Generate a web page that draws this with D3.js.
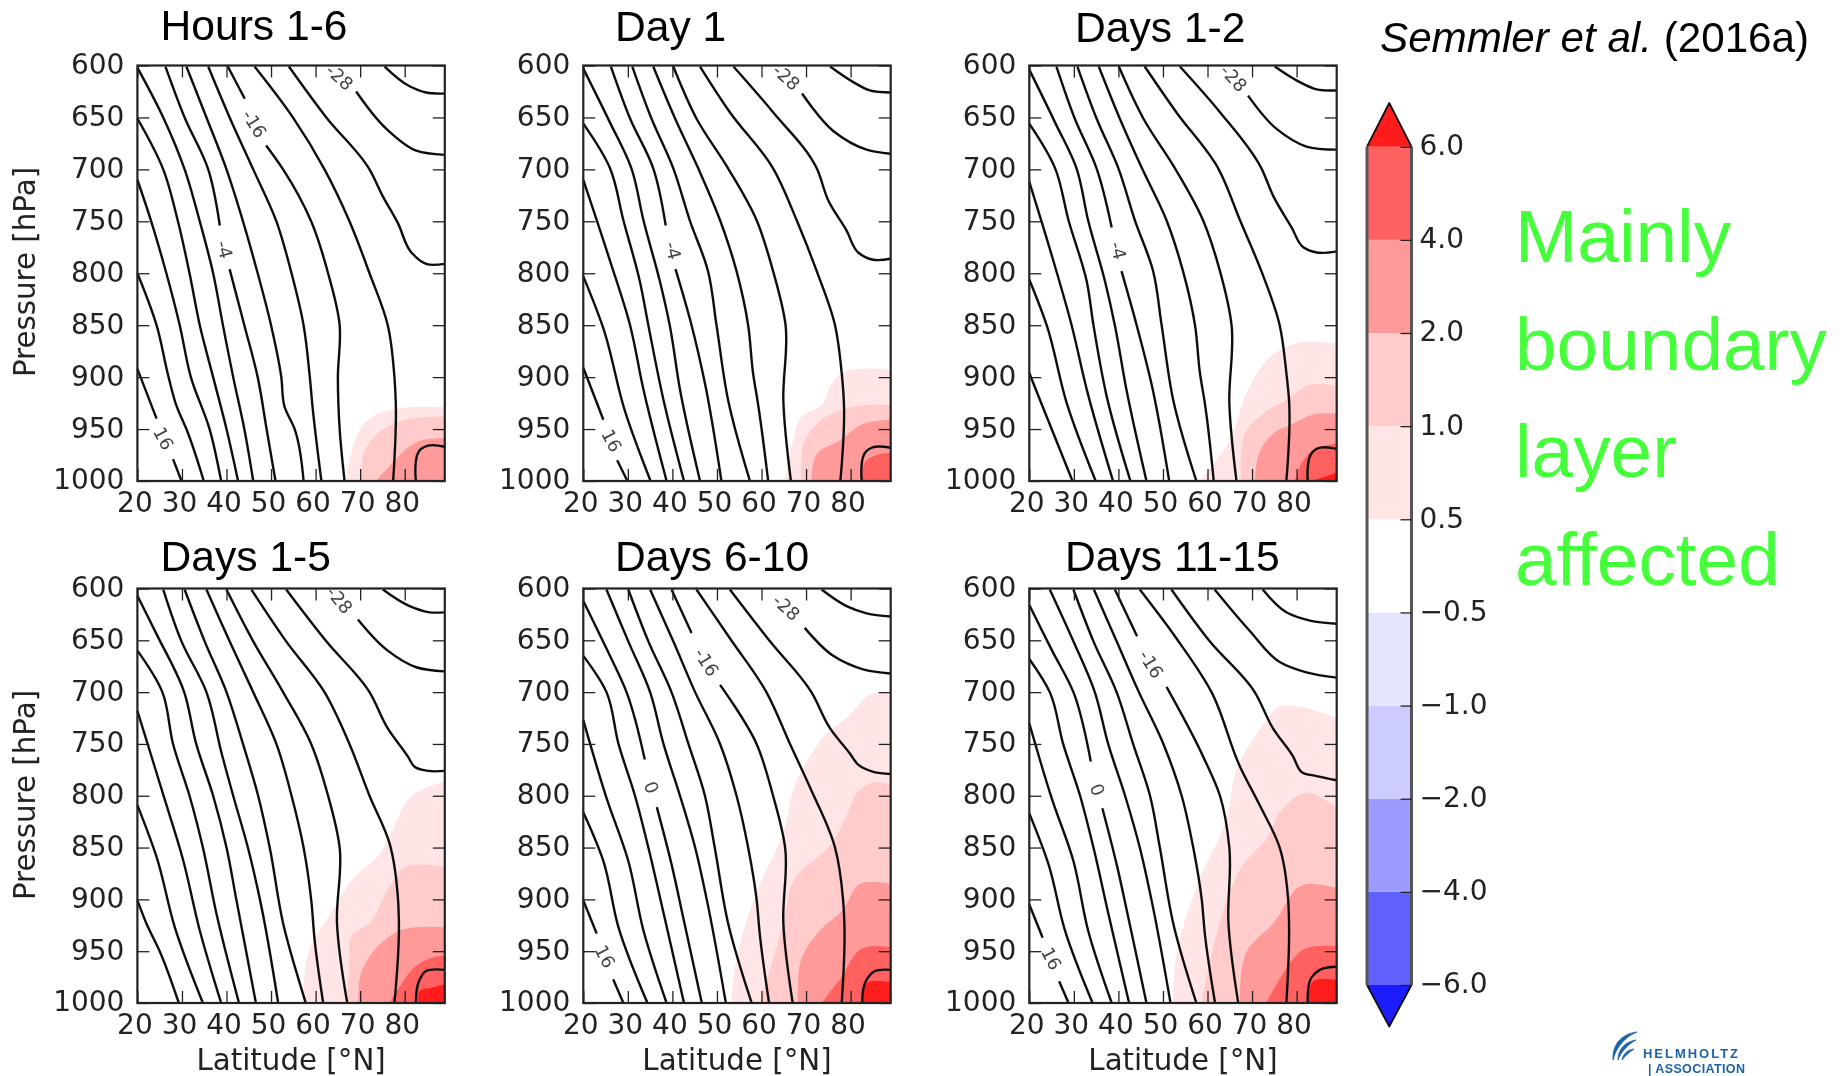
<!DOCTYPE html>
<html>
<head>
<title>Semmler et al. 2016a temperature response</title>
<script src="https://d3js.org/d3.v7.min.js"></script>
<style>
html, body { margin: 0; padding: 0; background: #fff; }
svg { display: block; }
.tick text { font-family: 'DejaVu Sans', sans-serif; fill: #222; }
</style>
</head>
<body>
<svg id="chart" width="1846" height="1076"></svg>
<script>

// tick values
var latTicks = [20, 30, 40, 50, 60, 70, 80];
var pressureTicks = [600, 650, 700, 750, 800, 850, 900, 950, 1000];
var barLevels = [-6, -4, -2, -1, -0.5, 0.5, 1, 2, 4, 6];
var barColors = ["#6060ff", "#9c9cff", "#ccccff", "#e5e5ff", "#ffffff", "#ffe5e5", "#ffcbcb", "#ff9a9a", "#ff6060"];
var shadeColors = ["#ffe5e5", "#ffcbcb", "#ff9a9a", "#ff6060", "#ff1a1a"];
var titles = ["Hours 1-6", "Day 1", "Days 1-2", "Days 1-5", "Days 6-10", "Days 11-15"];
var greenWords = ["Mainly", "boundary", "layer", "affected"];

// contour lines as [lat, pressure], null = gap for the inline label
var contoursH6 = [
  [[20,892],[24.3,940],null,[28,979],[29.9,1000]],
  [[20,800],[24.3,850],[27,900],[28.8,928],[31,950],[34.9,1000]],
  [[20,710],[22.8,746],[26.5,800],[29.5,850],[32,900],[36.2,950],[38.8,1000]],
  [[20,651],[25.8,700],[29.1,750],[31.7,800],[34,850],[37,900],[40,950],[42.6,1000]],
  [[20,602],[25.8,650],[30.6,700],[34,750],[37,800],[39.2,850],[41.5,900],[44,950],[46,1000]],
  [[26.3,601],[30.6,650],[35.9,700],[38.5,754],null,[40.7,796],[44,850],[47,900],[49,950],[51,1000]],
  [[31,601],[35.5,650],[40,700],[43.7,750],[47,800],[50,850],[52.3,900],[53,928],[55.3,950],[57.3,1000]],
  [[35.9,601],[40.7,650],[46,700],[51.2,750],[54.6,800],[57.3,850],[58.7,900],[59.3,928],[61.3,1000]],
  [[40.3,601],[44.1,632],null,[48.9,677],[52.7,700],[59,750],[62.8,800],[65.4,850],[65,900],[65.4,950],[66.5,1000]],
  [[46.3,601],[54.9,650],[62,700],[67.6,750],[72.1,800],[76.2,850],[77.7,900],[78,925],[77.4,1000]],
  [[54,601],[62.4,650],[72.1,700],[75.1,726],[78.5,752],[81.5,780],[84.8,791],[89,791]],
  [[69.1,625],[75.9,661],[82.6,682],[89,686]],
  [[75.5,601],[81.1,620],[84.8,626],[89,627]],
  [[82.5,1000],[83.7,969],[85.2,966],[89,967]]
];
var contoursD1 = [
  [[20,891],[24.5,941],null,[27.6,980],[29.9,1000]],
  [[20,803],[24.5,853],[29.3,932],[35.1,1000]],
  [[20,710],[26,788],[30.5,850],[33.5,912],[38.7,1000]],
  [[20,656],[26,699],[29,749],[32.7,808],[34.6,850],[38,922],[42.6,1000]],
  [[20,603],[26,655],[30.8,699],[33.5,749],[37.2,808],[39.4,850],[41.7,912],[46.2,1000]],
  [[26.2,601],[30.5,651],[35.7,699],[38.5,754],null,[40.7,796],[44.3,850],[47.3,906],[51,1000]],
  [[31,601],[35.3,651],[40.2,699],[43.9,749],[48,798],[49.9,850],[52.5,922],[57.4,1000]],
  [[35.7,601],[40.6,651],[45.8,699],[50.7,749],[54.4,798],[57,850],[58.1,896],[59.3,928],[61.5,1000]],
  [[40.2,601],[45.4,651],[52.5,699],[58.9,749],[62.6,798],[65.4,850],[64.9,922],[66.6,1000]],
  [[46.2,601],[52.9,645],[62.6,699],[67.9,749],[72.4,798],[76.5,850],[78,896],[78.5,925],[77.7,1000]],
  [[53.7,601],[62.6,645],[72.4,699],[75,730],[79.1,759],[81.7,780],[85.1,787],[89,786]],
  [[69.1,627],[76.1,663],[83.6,681],[89,685]],
  [[75.4,601],[80.6,616],[84.3,624],[89,626]],
  [[82.5,1000],[83.6,971],[84.7,968],[89,968]]
];
var contoursD2 = [
  [[20,896],[22.4,922],[25.4,954],[29.7,1000]],
  [[20,806],[23.9,850],[28.4,925],[34.9,1000]],
  [[20,712],[25.4,788],[29.5,850],[32.9,912],[38.8,1000]],
  [[20,656],[25.8,699],[28.8,749],[32.9,808],[34.4,850],[37.4,919],[42.7,1000]],
  [[20,604],[25.8,655],[30.6,699],[33.2,749],[37,808],[39.2,850],[41.8,912],[46.3,1000]],
  [[26.1,601],[30.2,651],[35.1,699],[38.5,756],null,[40.7,798],[44.1,850],[47.4,906],[51.4,1000]],
  [[30.8,601],[35.1,651],[40,699],[43.7,749],[47.8,798],[49.7,850],[52.3,922],[57.5,1000]],
  [[35.6,601],[40.3,651],[45.3,699],[50.8,749],[54.5,798],[57.2,850],[58.3,896],[59.4,925],[61.4,1000]],
  [[40.1,601],[45.6,651],[52.7,699],[59,749],[62.8,798],[65.4,850],[64.9,925],[66.5,1000]],
  [[45.9,601],[53,645],[62.4,699],[67.3,749],[72.1,798],[76.2,850],[77.7,896],[78.3,922],[77.7,1000]],
  [[53.8,601],[62.8,645],[72.1,699],[74.8,726],[78.9,756],[81.5,775],[84.5,780],[89,779]],
  [[69.1,629],[75.5,661],[82.2,678],[89,681]],
  [[75.1,601],[80.7,616],[84.5,623],[89,624]],
  [[82.5,1000],[83.6,972],[84.5,969],[89,969]]
];
var contoursD5 = [
  [[20,901],[22,923],[25,950],[29.3,1000]],
  [[20,809],[24.3,859],[28.4,927],[34.7,1000]],
  [[20,718],[25.8,799],[30.2,861],[34,930],[38.8,1000]],
  [[20,660],[25.6,700],[28,750],[31.7,800],[34.7,850],[37.7,913],[42.8,1000]],
  [[20,607],[24.3,644],[30.5,700],[33.2,750],[37,800],[40,850],[42.2,900],[46.6,1000]],
  [[25.8,601],[29.9,651],[35.5,700],[38.9,759],[41.5,800],[44.8,850],[47.5,900],[51.6,1000]],
  [[30.6,601],[35.1,651],[40,700],[43.7,750],[47.1,800],[49.7,850],[52.7,923],[57.8,1000]],
  [[35.5,601],[40.7,651],[46,700],[51.2,750],[54.6,800],[57.3,850],[59,900],[59.8,940],[61.7,1000]],
  [[40,601],[46,651],[52.7,700],[59,750],[62.8,800],[65.4,850],[64.8,923],[67.1,1000]],
  [[45.6,601],[53.4,651],[62,700],[67.6,750],[72.1,800],[76.6,846],[78.5,900],[78.7,923],[77.7,1000]],
  [[53.4,601],[62.4,651],[72.1,700],[76.2,735],[80.7,762],[82.2,772],[85.2,776],[89,776]],
  [[69.5,630],[75.9,659],[82.6,676],[89,680]],
  [[75.1,601],[81.1,617],[85.6,623],[89,623]],
  [[82.5,1000],[83.2,979],[84.5,970],[89,968]]
];
var contoursD10 = [
  [[20,901],[23,933],null,[26.7,977],[29,1000]],
  [[20,816],[24.5,863],[27.9,927],[34.4,1000]],
  [[20,727],[25.2,802],[30.1,863],[33.5,930],[38.7,1000]],
  [[20,665],[25.2,700],[27.9,750],[31.6,800],[34.6,850],[38,913],[42.6,1000]],
  [[20,612],[25.2,658],[29.7,700],[33.8,765],null,[36.5,811],[39.8,866],[42.4,917],[46.6,1000]],
  [[25.2,601],[30.1,651],[35,700],[38,750],[41.7,800],[45.1,850],[47.7,900],[52,1000]],
  [[30.1,601],[34.6,651],[39.8,700],[43.6,750],[47.3,800],[49.5,850],[52.5,923],[57.8,1000]],
  [[35,601],[40.2,651],[45.1,700],[50.7,750],[54.4,800],[57,850],[58.9,900],[59.6,933],[61.7,1000]],
  [[39.8,601],[44.3,643],null,[50.7,693],[58.9,750],[62.6,800],[65.3,850],[64.9,923],[67,1000]],
  [[45.4,601],[52.9,648],[61.1,700],[66.4,750],[70.9,792],[76.5,850],[78.3,900],[78.6,923],[78,1000]],
  [[52.9,601],[61.9,651],[71.2,700],[75.4,735],[79.8,759],[81.7,770],[85.1,777],[89,779]],
  [[69.7,638],[76.1,665],[82.8,678],[89,682]],
  [[73.5,601],[79.1,617],[83.6,624],[89,627]],
  [[82.6,1000],[83.4,979],[85.1,970],[89,968]]
];
var contoursD15 = [
  [[20,905],[23,937],null,[26.7,979],[28.8,1000]],
  [[20,817],[24.3,866],[28,930],[34.2,1000]],
  [[20,730],[25,802],[29.9,863],[33.2,930],[38.5,1000]],
  [[20,668],[24.6,700],[27.6,750],[31.4,800],[34.4,850],[37.7,913],[42.4,1000]],
  [[20,616],[25,659],[29.9,700],[33.8,767],null,[36.4,812],[39.6,866],[42.2,917],[46.3,1000]],
  [[24.6,601],[29.9,651],[34.7,700],[37.7,750],[41.5,800],[44.8,850],[47.4,900],[51.7,1000]],
  [[29.9,601],[34.4,651],[39.6,700],[43.3,750],[47.1,800],[49.3,850],[52.3,923],[57.5,1000]],
  [[34.5,601],[39.6,651],[44.6,700],[50.1,750],[54.2,800],[56.8,850],[58.7,900],[59.4,933],[61.7,1000]],
  [[39.2,601],[44.2,646],null,[50.8,695],[59,762],[62.8,800],[64.9,850],[64.7,923],[66.9,1000]],
  [[44.8,601],[53,648],[60.9,700],[67.3,772],[71.7,809],[76.2,850],[78.1,900],[78.3,923],[77.7,1000]],
  [[51.9,601],[60.5,651],[70.6,700],[74.7,735],[79.2,762],[81.1,777],[84.5,781],[89,785]],
  [[61.6,601],[69.5,641],[76.2,671],[82.2,681],[89,686]],
  [[72.4,601],[77.7,623],[83,631],[89,634]],
  [[82.5,1000],[83.4,975],[85.2,968],[89,965]]
];

// shaded areas: upper boundary of each level (0.5, 1, 2, 4, 6), closed at the lower right corner
var shadeH6 = [
  [[66.9,1000],[68.4,967],[70.3,948],[73.6,936],[78.9,930],[89,929]],
  [[70.3,1000],[71,971],[74,954],[80.4,941],[89,938]],
  [[73.6,1000],[77.4,982],[81,967],[83.7,961],[89,959]]
];
var shadeD1 = [
  [[65.3,1000],[67.1,961],[68.6,940],[73.9,925],[75.4,909],[78,896],[82.1,892],[89,893]],
  [[69,1000],[69.7,961],[72.4,945],[78.3,931],[83.6,927],[89,927]],
  [[71.2,1000],[72.4,974],[77.6,961],[82.8,945],[89,941]],
  [[82.5,1000],[83.2,982],[86.6,974],[89,973]]
];
var shadeD2 = [
  [[58.3,1000],[65,961],[68.8,915],[74.8,878],[81.5,866],[89,868]],
  [[67.6,1000],[68.8,951],[72.5,935],[77.7,922],[83,907],[89,909]],
  [[70.6,1000],[71.8,971],[74.8,954],[79.2,945],[83.7,936],[89,935]],
  [[79.6,1000],[81.5,980],[83.4,971],[89,964]],
  [[83.4,1000],[89,992]]
];
var shadeD5 = [
  [[57.2,1000],[58.3,953],[63.9,910],[68.4,880],[74.4,856],[76.6,839],[81.9,799],[89,786]],
  [[66.9,1000],[67.6,967],[68.4,933],[72.1,923],[75.9,893],[80,869],[89,869]],
  [[69.5,1000],[70.3,970],[73.6,947],[78.9,930],[89,927]],
  [[76.6,1000],[78.9,984],[82.6,964],[85.6,957],[89,954]],
  [[83,1000],[83.3,989],[86.3,985],[89,982]]
];
var shadeD10 = [
  [[53.3,1000],[53.7,977],[58.9,893],[64.9,836],[67.9,785],[70.9,762],[73.9,743],[79.1,725],[85.1,701],[89,700]],
  [[59.6,1000],[64.9,923],[67.1,883],[76.1,844],[79.1,819],[82.1,794],[85.1,787],[89,789]],
  [[68.2,1000],[69,957],[73.1,930],[78.3,910],[82.1,885],[89,885]],
  [[73.5,1000],[77.6,977],[82.8,947],[89,946]],
  [[82.5,1000],[83.4,981],[89,980]]
];
var shadeD15 = [
  [[52.3,1000],[52.7,964],[58.3,880],[64.3,823],[66.5,775],[73.3,727],[75.5,715],[81.5,715],[89,725]],
  [[58.7,1000],[65,893],[67.6,869],[73.6,839],[76.2,816],[82.2,797],[89,812]],
  [[67.3,1000],[68.8,950],[74.8,923],[81.5,886],[89,889]],
  [[73.2,1000],[76.2,977],[82.2,947],[89,945]],
  [[82.5,1000],[83.7,979],[89,978]]
];

// inline contour labels: text, lat, pressure, rotation
var labelsH6 = [["-28",65.4,611,42],["-16",46.3,656,58],["-4",39.6,777,75],["16",25.9,959,62]];
var labelsD1 = [["-28",65.6,611,42],["-4",40.2,778,75],["16",26.4,961,62]];
var labelsD2 = [["-28",65.9,612,48],["-4",40,778,75]];
var labelsD5 = [["-28",65.4,611,50]];
var labelsD10 = [["-28",65.6,618,42],["-16",47.7,671,58],["0",35.3,792,70],["16",24.9,955,62]];
var labelsD15 = [["-16",47.4,673,58],["0",35.3,794,70],["16",25,957,62]];

var allContours = [contoursH6, contoursD1, contoursD2, contoursD5, contoursD10, contoursD15];
var allShades = [shadeH6, shadeD1, shadeD2, shadeD5, shadeD10, shadeD15];
var allLabels = [labelsH6, labelsD1, labelsD2, labelsD5, labelsD10, labelsD15];

var titleFont = "'Liberation Sans', Arial, sans-serif";
var axisFont = "'DejaVu Sans', sans-serif";

var svg = d3.select("#chart");

// panel frames
var lefts = [137.4, 583.3, 1029.3];
var rows = [[65.5, 481], [588.5, 1003]];
var titleX = [160.5, 615, 1075, 160.5, 615, 1065];
var titleY = [39.5, 41, 42, 571, 571, 571];
var panelW = 307.4;

svg.append("defs").append("filter").attr("id", "soft")
  .append("feGaussianBlur").attr("stdDeviation", 0.45);

function drawPanel(i) {
  var col = i % 3, row = Math.floor(i / 3);
  var xScale = d3.scaleLinear().domain([20, 89]).range([lefts[col], lefts[col] + panelW]);
  var yScale = d3.scaleLinear().domain([600, 1000]).range(rows[row]);
  var line = d3.line()
    .defined(function (d) { return d; })
    .curve(d3.curveCatmullRom.alpha(1))
    .x(function (d) { return xScale(d[0]); })
    .y(function (d) { return yScale(d[1]); });

  var g = svg.append("g").attr("filter", "url(#soft)");

  allShades[i].forEach(function (s, k) {
    g.append("path")
      .attr("fill", shadeColors[k])
      .attr("d", line(s) + "L" + xScale(89) + "," + yScale(1000) + "Z");
  });

  g.selectAll(".contour").data(allContours[i]).enter().append("path")
    .attr("class", "contour")
    .attr("fill", "none")
    .attr("stroke", "#111")
    .attr("stroke-width", 2.4)
    .attr("d", line);

  g.selectAll(".clabel").data(allLabels[i]).enter().append("text")
    .attr("class", "clabel")
    .attr("font-family", axisFont)
    .attr("font-size", 18)
    .attr("fill", "#444")
    .attr("text-anchor", "middle")
    .attr("dominant-baseline", "central")
    .attr("transform", function (d) {
      return "translate(" + xScale(d[1]) + "," + yScale(d[2]) + ") rotate(" + d[3] + ")";
    })
    .text(function (d) { return d[0]; });

  // axes, matplotlib style ticks pointing inwards
  var leftAxis = d3.axisLeft(yScale).tickValues(pressureTicks).tickSizeInner(-12).tickSizeOuter(0).tickPadding(13)
    .tickFormat(d3.format("d"));
  var rightAxis = d3.axisRight(yScale).tickValues(pressureTicks).tickSizeInner(-12).tickSizeOuter(0).tickFormat("");
  var bottomAxis = d3.axisBottom(xScale).tickValues(latTicks).tickSizeInner(-12).tickSizeOuter(0).tickPadding(11);
  var topAxis = d3.axisTop(xScale).tickValues(latTicks).tickSizeInner(-12).tickSizeOuter(0).tickFormat("");

  var gl = g.append("g").attr("transform", "translate(" + xScale.range()[0] + ",0)").call(leftAxis);
  var gr = g.append("g").attr("transform", "translate(" + xScale.range()[1] + ",0)").call(rightAxis);
  var gb = g.append("g").attr("transform", "translate(0," + rows[row][1] + ")").call(bottomAxis);
  var gt = g.append("g").attr("transform", "translate(0," + rows[row][0] + ")").call(topAxis);
  [gl, gr, gb, gt].forEach(function (a) {
    a.select(".domain").remove();
    a.selectAll("line").attr("stroke", "#222").attr("stroke-width", 1.3);
    a.selectAll("text").attr("font-size", 28).attr("font-family", axisFont);
  });
  gl.selectAll("text").attr("y", -1);
  gb.selectAll("text").attr("dx", -3);

  g.append("rect")
    .attr("x", lefts[col]).attr("y", rows[row][0])
    .attr("width", panelW).attr("height", rows[row][1] - rows[row][0])
    .attr("fill", "none").attr("stroke", "#222").attr("stroke-width", 2.2);

  // titles
  svg.append("text")
    .attr("x", titleX[i]).attr("y", titleY[i])
    .attr("font-family", titleFont).attr("font-size", 42.6)
    .attr("fill", "#000")
    .text(titles[i]);

  if (col == 0) {
    g.append("text")
      .attr("transform", "translate(35," + (row == 0 ? 272 : 795) + ") rotate(-90)")
      .attr("text-anchor", "middle")
      .attr("font-family", axisFont).attr("font-size", 29.3).attr("fill", "#222")
      .text("Pressure [hPa]");
  }
  if (row == 1) {
    g.append("text")
      .attr("x", lefts[col] + panelW / 2).attr("y", 1070)
      .attr("text-anchor", "middle")
      .attr("font-family", axisFont).attr("font-size", 29.3).attr("fill", "#222")
      .text("Latitude [°N]");
  }
}

titles.forEach(function (t, i) { drawPanel(i); });

// colour bar, levels evenly spaced
var barX0 = 1367, barX1 = 1411.5;
var barY = d3.scalePoint().domain(barLevels).range([985, 146.7]);
var bar = svg.append("g").attr("filter", "url(#soft)");

bar.selectAll(".seg").data(barColors).enter().append("rect")
  .attr("class", "seg")
  .attr("x", barX0).attr("width", barX1 - barX0)
  .attr("y", function (d, i) { return barY(barLevels[i + 1]); })
  .attr("height", function (d, i) { return barY(barLevels[i]) - barY(barLevels[i + 1]); })
  .attr("fill", function (d) { return d; });

var barMid = (barX0 + barX1) / 2;
bar.append("path")
  .attr("d", "M" + barX0 + "," + barY(6) + "L" + barMid + ",103L" + barX1 + "," + barY(6))
  .attr("fill", "#ff1a1a").attr("stroke", "#111").attr("stroke-width", 1.8).attr("stroke-linejoin", "round");
bar.append("path")
  .attr("d", "M" + barX0 + "," + barY(-6) + "L" + barMid + ",1026.5L" + barX1 + "," + barY(-6))
  .attr("fill", "#1c1cff").attr("stroke", "#111").attr("stroke-width", 1.8).attr("stroke-linejoin", "round");
[barX0, barX1].forEach(function (x) {
  bar.append("line")
    .attr("x1", x).attr("x2", x).attr("y1", barY(6)).attr("y2", barY(-6))
    .attr("stroke", "#555").attr("stroke-width", 3);
});

var barAxis = d3.axisRight(barY).tickSizeInner(-11).tickSizeOuter(0).tickPadding(8)
  .tickFormat(d3.format(".1f"));
var gBar = bar.append("g").attr("transform", "translate(" + barX1 + ",0)").call(barAxis);
gBar.select(".domain").remove();
gBar.selectAll("line").attr("stroke", "#222").attr("stroke-width", 1.3);
gBar.selectAll("text").attr("font-size", 28).attr("font-family", axisFont).attr("y", -1);

// citation
var cite = svg.append("text")
  .attr("x", 1380).attr("y", 52)
  .attr("font-family", titleFont).attr("font-size", 42.2).attr("fill", "#000");
cite.append("tspan").attr("font-style", "italic").text("Semmler et al.");
cite.append("tspan").text(" (2016a)");

// green annotation
var greenBase = [262, 370, 477, 585];
svg.selectAll(".green").data(greenWords).enter().append("text")
  .attr("class", "green")
  .attr("x", 1515)
  .attr("y", function (d, i) { return greenBase[i]; })
  .attr("font-family", titleFont).attr("font-size", 74.8)
  .attr("fill", "#44ff3a")
  .text(function (d) { return d; });

// logo
var logo = svg.append("g");
var wing = ["M1613,1060C1612,1046 1620,1034 1637,1032C1626,1036 1616,1047 1613,1060Z",
            "M1618,1060C1618,1050 1624,1042 1636,1040C1627,1045 1621,1052 1618,1060Z",
            "M1622,1060C1623,1054 1627,1050 1634,1049C1629,1052 1625,1056 1622,1060Z"];
logo.selectAll("path").data(wing).enter().append("path")
  .attr("d", function (d) { return d; })
  .attr("fill", "#1c62a8").attr("stroke", "#1c62a8").attr("stroke-width", 0.8);
logo.append("text").attr("x", 1643).attr("y", 1058)
  .attr("font-family", titleFont).attr("font-weight", "bold").attr("font-size", 13)
  .attr("fill", "#1c62a8").attr("textLength", 95).attr("lengthAdjust", "spacing")
  .text("HELMHOLTZ");
logo.append("text").attr("x", 1648).attr("y", 1073)
  .attr("font-family", titleFont).attr("font-weight", "bold").attr("font-size", 12.5)
  .attr("fill", "#1c62a8").attr("textLength", 97).attr("lengthAdjust", "spacing")
  .text("| ASSOCIATION");

</script>
</body>
</html>
